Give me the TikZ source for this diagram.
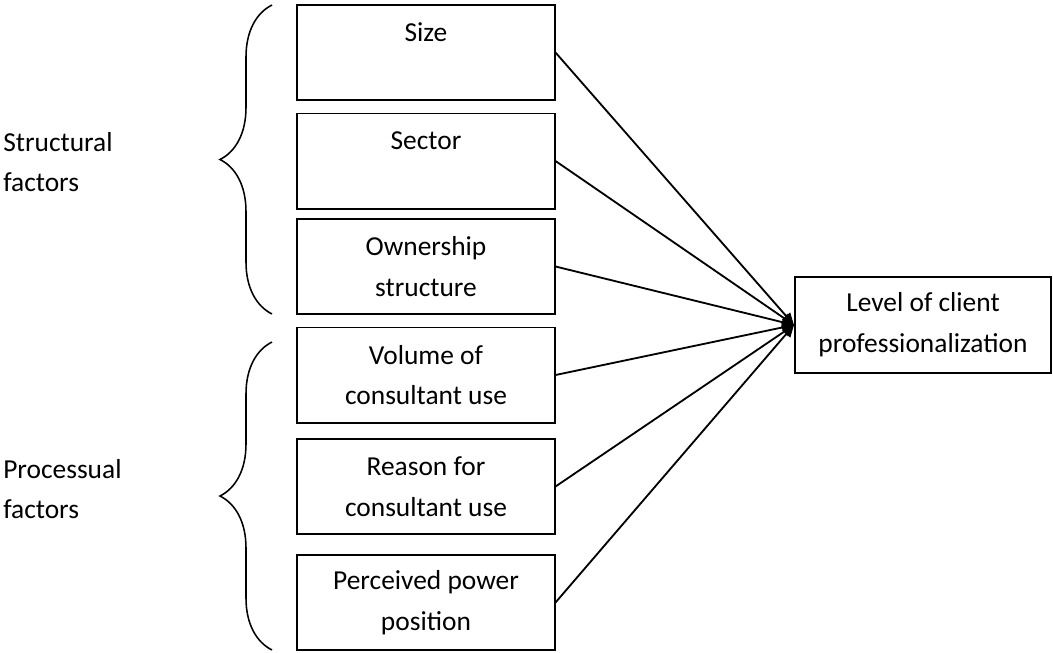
\documentclass[tikz,border=0pt]{standalone}
\usepackage{fontspec}
\setmainfont{Carlito}
\usetikzlibrary{arrows.meta,decorations.pathreplacing}

\begin{document}
\begin{tikzpicture}[x=0.025cm,y=-0.025cm,
        txt/.style={font=\fontsize{19.5}{29}\selectfont},
        factor/.style={txt,draw,line width=1.4pt,minimum width=6.425cm,minimum height=2.375cm,align=center,inner sep=0pt},
        link/.style={line width=1.3pt,-{Triangle[length=3mm,width=2.6mm]}},
        grp/.style={line width=1.1pt,decorate,decoration={brace,amplitude=1.3cm}}]
            \useasboundingbox (0,0) rectangle (1053,652);

            \node[factor] (size) at (426,52.5) {Size\\\mbox{}};
            \node[factor] (sector) at (426,161) {Sector\\\mbox{}};
            \node[factor] (owner) at (426,266.5) {Ownership\\structure};
            \node[factor] (volume) at (426,375) {Volume of\\consultant use};
            \node[factor] (reason) at (426,486.5) {Reason for\\consultant use};
            \node[factor] (power) at (426,602.5) {Perceived power\\position};
            \node[factor,minimum width=6.4cm,minimum height=2.4cm] (prof) at (923,325) {Level of client\\professionalization};

            \draw[grp] (272,314) -- (272,5);
            \draw[grp] (272,650) -- (272,342);
            \node[txt,align=left,anchor=west,inner sep=0pt] (struct) at (3,162) {Structural\\factors};
            \node[txt,align=left,anchor=west,inner sep=0pt] (proc) at (3,489) {Processual\\factors};

            \foreach \f in {size,sector,owner,volume,reason,power}
                \draw[link] (\f.east) -- (prof.west);
        \end{tikzpicture}
\end{document}
